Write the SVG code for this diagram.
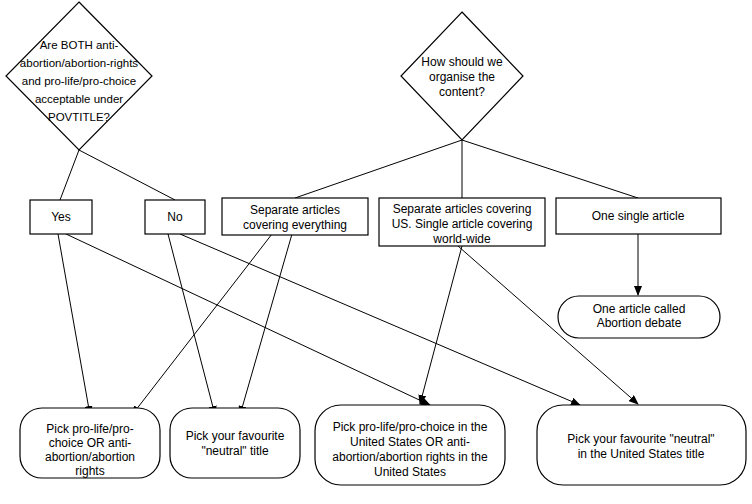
<svg xmlns="http://www.w3.org/2000/svg" width="752" height="504" viewBox="0 0 752 504">
<style>
.s{fill:#fff;stroke:#000;stroke-width:1.2}
.c line{stroke:#000;stroke-width:1}
.a{marker-end:url(#m)}
text{font-family:"Liberation Sans",Arial,sans-serif;font-size:12px;text-anchor:middle;fill:#000}
#d1 text{font-size:11.5px}
</style>
<defs><marker id="m" markerWidth="10" markerHeight="8" refX="9" refY="4" orient="auto" markerUnits="userSpaceOnUse"><path d="M0,0 L10,4 L0,8 Z"/></marker></defs>
<rect width="752" height="504" fill="#fff"/>
<g class="c">
<line x1="79" y1="150" x2="60" y2="200"/>
<line x1="79" y1="150" x2="175" y2="200"/>
<line x1="462" y1="140" x2="295" y2="198"/>
<line x1="462" y1="140" x2="462" y2="198"/>
<line x1="462" y1="140" x2="638" y2="198"/>
<line class="a" x1="638" y1="234" x2="638" y2="295"/>
<line class="a" x1="58" y1="234" x2="90" y2="415"/>
<line class="a" x1="66" y1="234" x2="430" y2="405"/>
<line class="a" x1="168" y1="234" x2="215" y2="415"/>
<line class="a" x1="180" y1="234" x2="580" y2="405"/>
<line class="a" x1="272" y1="234" x2="132" y2="415"/>
<line class="a" x1="292" y1="234" x2="240" y2="415"/>
<line class="a" x1="462" y1="246" x2="420" y2="404"/>
<line class="a" x1="458" y1="246" x2="638" y2="404"/>
</g>
<g id="d1"><polygon class="s" points="79,2 152,76 79,150 6,76"/>
<text x="79" y="49">Are BOTH anti-</text><text x="79" y="67">abortion/abortion-rights</text><text x="79" y="85">and pro-life/pro-choice</text><text x="79" y="103">acceptable under</text><text x="79" y="121">POVTITLE?</text></g>
<g id="d2"><polygon class="s" points="462,12 523,76 462,140 401,76"/>
<text x="462" y="66">How should we</text><text x="462" y="81">organise the</text><text x="462" y="96">content?</text></g>
<g id="yes"><rect class="s" x="30" y="200" width="62" height="34"/><text x="61" y="221">Yes</text></g>
<g id="no"><rect class="s" x="145" y="200" width="60" height="34"/><text x="175" y="221">No</text></g>
<g id="sep"><rect class="s" x="222" y="198" width="146" height="37"/><text x="295" y="214">Separate articles</text><text x="295" y="229">covering everything</text></g>
<g id="sepus"><rect class="s" x="379" y="198" width="166" height="48"/><text x="462" y="213">Separate articles covering</text><text x="462" y="228">US. Single article covering</text><text x="462" y="243">world-wide</text></g>
<g id="one"><rect class="s" x="556" y="198" width="165" height="36"/><text x="638" y="220">One single article</text></g>
<g id="called"><rect class="s" x="558" y="296" width="162" height="42" rx="21"/><text x="639" y="313">One article called</text><text x="639" y="327">Abortion debate</text></g>
<g id="b1"><rect class="s" x="20" y="408" width="140" height="70" rx="22"/><text x="90" y="433">Pick pro-life/pro-</text><text x="90" y="447">choice OR anti-</text><text x="90" y="461">abortion/abortion</text><text x="90" y="475">rights</text></g>
<g id="b2"><rect class="s" x="170" y="408" width="130" height="70" rx="22"/><text x="235" y="440">Pick your favourite</text><text x="235" y="455">"neutral" title</text></g>
<g id="b3"><rect class="s" x="315" y="405" width="190" height="80" rx="26"/><text x="410" y="431">Pick pro-life/pro-choice in the</text><text x="410" y="446">United States OR anti-</text><text x="410" y="461">abortion/abortion rights in the</text><text x="410" y="476">United States</text></g>
<g id="b4"><rect class="s" x="537" y="405" width="209" height="80" rx="26"/><text x="641" y="443">Pick your favourite "neutral"</text><text x="641" y="458">in the United States title</text></g>
</svg>
